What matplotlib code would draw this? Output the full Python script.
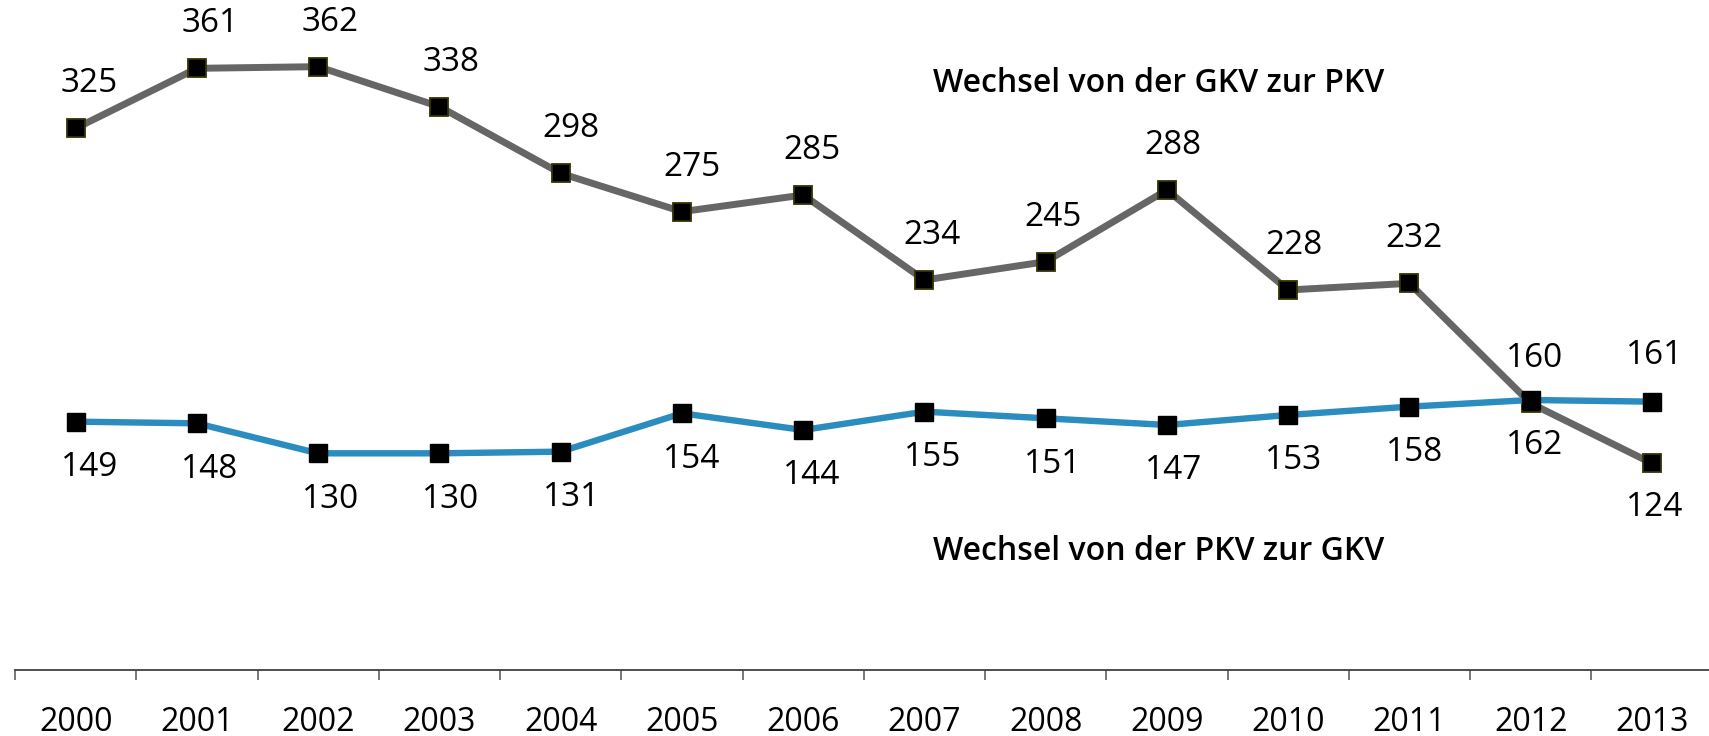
import matplotlib.pyplot as plt

jahre = ["2000", "2001", "2002", "2003", "2004", "2005", "2006",
         "2007", "2008", "2009", "2010", "2011", "2012", "2013"]
gkv_zu_pkv = [325, 361, 362, 338, 298, 275, 285, 234, 245, 288, 228, 232, 160, 124]
pkv_zu_gkv = [149, 148, 130, 130, 131, 154, 144, 155, 151, 147, 153, 158, 162, 161]

# Beschriftung oberhalb (+1) oder unterhalb (-1) des Punktes
seite_grau = [1] * 13 + [-1]
seite_blau = [-1] * 13 + [1]

plt.rcParams['font.family'] = ['Open Sans', 'DejaVu Sans']

fig = plt.figure(figsize=(17.09, 7.36), dpi=100)
ax = fig.add_axes([0.0088, 0.0897, 0.9933, 0.9103])

x = list(range(len(jahre)))

# Graue Linie (GKV -> PKV)
ax.plot(x, gkv_zu_pkv, color="#666666", linewidth=5, marker="s", markersize=12.5,
        markerfacecolor="black", markeredgecolor="#333300", markeredgewidth=1.3, zorder=3)
# Blaue Linie (PKV -> GKV)
ax.plot(x, pkv_zu_gkv, color="#2A8CBF", linewidth=4.6, marker="s", markersize=12.5,
        markerfacecolor="black", markeredgecolor="black", markeredgewidth=1.0, zorder=4)

# Werte beschriften
for i in x:
    dx = 10 - 0.6 * i
    ax.annotate(str(gkv_zu_pkv[i]), (i, gkv_zu_pkv[i]), xytext=(dx, 32 * seite_grau[i]),
                textcoords="offset points", ha="center", va="center", fontsize=24)
    ax.annotate(str(pkv_zu_gkv[i]), (i, pkv_zu_gkv[i]), xytext=(dx, 33 * seite_blau[i]),
                textcoords="offset points", ha="center", va="center", fontsize=24)

# Serienbeschriftungen
ax.text(8.93, 352, "Wechsel von der GKV zur PKV", ha="center", va="center",
        fontsize=23, fontweight="semibold")
ax.text(8.93, 71, "Wechsel von der PKV zur GKV", ha="center", va="center",
        fontsize=23, fontweight="semibold")

ax.set_xlim(-0.5, len(jahre) - 0.5)
ax.set_ylim(0, 402)

# Achsen
for s in ["top", "right", "left"]:
    ax.spines[s].set_visible(False)
ax.spines["bottom"].set_color("#404040")
ax.spines["bottom"].set_linewidth(1.3)
ax.set_yticks([])

ax.set_xticks([i - 0.5 for i in range(len(jahre) + 1)])
ax.set_xticklabels([])
ax.tick_params(axis="x", which="major", direction="out", length=7.5, width=1.2, color="#606060")
ax.set_xticks(x, minor=True)
ax.set_xticklabels(jahre, minor=True, fontsize=23)
ax.tick_params(axis="x", which="minor", length=0, pad=26)

fig.savefig("out.png", dpi=100)
